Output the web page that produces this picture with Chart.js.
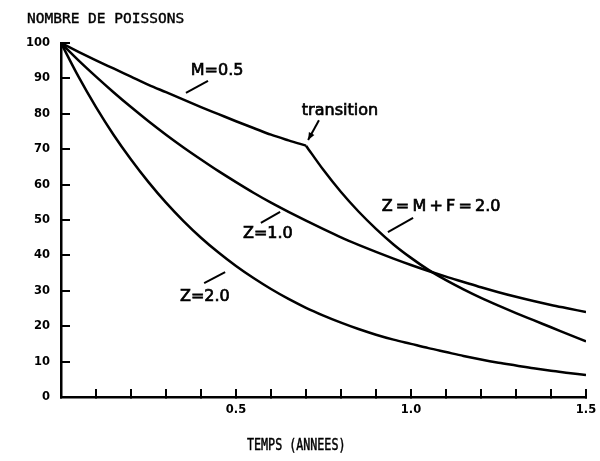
<!DOCTYPE html>
<html><head><meta charset="utf-8">
<script src="https://cdn.jsdelivr.net/npm/chart.js@4/dist/chart.umd.min.js"></script>
<style>html,body{margin:0;padding:0;background:#fff}#wrap{width:600px;height:461px}</style>
</head><body><div id="wrap"><canvas id="c" width="600" height="461"></canvas></div>
<script>
// ---- data ----
const years = [0, 0.05, 0.1, 0.15, 0.2, 0.25, 0.3, 0.35, 0.4, 0.45, 0.5, 0.55, 0.6, 0.65, 0.7, 0.75,
               0.8, 0.85, 0.9, 0.95, 1.0, 1.05, 1.1, 1.15, 1.2, 1.25, 1.3, 1.35, 1.4, 1.45, 1.5];
const zOne  = [100, 95.1, 90.5, 86.1, 81.9, 77.9, 74.1, 70.5, 67.1, 63.8, 60.7, 57.7, 54.9, 52.3, 49.8, 47.4,
               45.1, 43, 41, 39.1, 37.3, 35.6, 34, 32.5, 31, 29.6, 28.3, 27.1, 26, 25, 24];
const zTwo  = [100, 90.5, 81.9, 74.1, 67.1, 60.7, 54.9, 49.7, 45, 40.8, 37, 33.6, 30.5, 27.7, 25.2, 23,
               21, 19.2, 17.6, 16.2, 15, 13.8, 12.7, 11.6, 10.6, 9.7, 8.9, 8.1, 7.4, 6.8, 6.2];
const mYears = [0, 0.05, 0.1, 0.15, 0.2, 0.25, 0.3, 0.35, 0.4, 0.45, 0.5, 0.55, 0.6, 0.65, 0.7];
const mHalf  = [100, 97.5, 95.1, 92.8, 90.5, 88.2, 86.1, 84, 81.9, 79.9, 77.9, 76, 74.1, 72.5, 71];
const transYears = [0.7, 0.75, 0.8, 0.85, 0.9, 0.95, 1.0, 1.05, 1.1, 1.15, 1.2, 1.25, 1.3, 1.35, 1.4, 1.45, 1.5];
const transZ     = [71, 64.1, 57.9, 52.4, 47.5, 43.1, 39.3, 35.9, 33, 30.4, 28, 25.8, 23.7, 21.7, 19.7, 17.7, 15.7];
const xTickLabels = ['0.5', '1.0', '1.5'];
const yAxisTitle = 'NOMBRE DE POISSONS';
const xAxisTitle = 'TEMPS (ANNEES)';
const curveLabels = ['M=0.5', 'transition', 'Z\u2009=\u2009M\u2009+\u2009F\u2009=\u20092.0', 'Z=1.0', 'Z=2.0'];

// ---- layout for annotations (data units) ----
const labelPlacement = [
  {text: curveLabels[0], x: 0.446, y: 92.1, line: [0.357, 85.9, 0.42, 89.3]},
  {text: curveLabels[1], x: 0.797, y: 80.8, line: [0.737, 78.2, 0.706, 72.6], arrow: true},
  {text: curveLabels[2], x: 1.086, y: 53.7, line: [0.934, 46.6, 1.006, 50.6]},
  {text: curveLabels[3], x: 0.591, y: 46.0, line: [0.571, 49.2, 0.626, 52.3]},
  {text: curveLabels[4], x: 0.411, y: 28.2, line: [0.409, 32.2, 0.469, 35.3]}
];

const pts = (xs, ys) => xs.map((x, i) => ({x, y: ys[i]}));
const lineStyle = {borderColor: '#000', borderWidth: 2.5, pointRadius: 0, fill: false, cubicInterpolationMode: 'monotone'};

const annot = {
  id: 'annot',
  afterDatasetsDraw(chart) {
    const ctx = chart.ctx, xs = chart.scales.x, ys = chart.scales.y;
    ctx.save();
    ctx.fillStyle = '#000'; ctx.strokeStyle = '#000';
    ctx.font = '16px "DejaVu Sans"';
    ctx.textAlign = 'center'; ctx.textBaseline = 'middle';
    for (const a of labelPlacement) {
      const tx = xs.getPixelForValue(a.x), ty = ys.getPixelForValue(a.y);
      ctx.fillText(a.text, tx, ty);
      ctx.lineWidth = 0.7; ctx.strokeText(a.text, tx, ty);
      const x1 = xs.getPixelForValue(a.line[0]), y1 = ys.getPixelForValue(a.line[1]);
      const x2 = xs.getPixelForValue(a.line[2]), y2 = ys.getPixelForValue(a.line[3]);
      ctx.lineWidth = 2;
      ctx.beginPath(); ctx.moveTo(x1, y1); ctx.lineTo(x2, y2); ctx.stroke();
      if (a.arrow) {
        const ang = Math.atan2(y2 - y1, x2 - x1), L = 8, W = 0.4;
        ctx.beginPath();
        ctx.moveTo(x2, y2);
        ctx.lineTo(x2 - L * Math.cos(ang - W), y2 - L * Math.sin(ang - W));
        ctx.lineTo(x2 - L * Math.cos(ang + W), y2 - L * Math.sin(ang + W));
        ctx.closePath(); ctx.fill();
      }
    }
    // axis titles
    ctx.textAlign = 'left'; ctx.textBaseline = 'alphabetic';
    ctx.font = '14.5px "DejaVu Sans Mono"';
    ctx.fillText(yAxisTitle, 27, 23);
    ctx.lineWidth = 0.4; ctx.strokeText(yAxisTitle, 27, 23);
    ctx.save();
    ctx.translate(247, 450); ctx.scale(0.73, 1);
    ctx.font = '16px "DejaVu Sans Mono"';
    ctx.fillText(xAxisTitle, 0, 0);
    ctx.lineWidth = 0.5; ctx.strokeText(xAxisTitle, 0, 0);
    ctx.restore();
    ctx.restore();
  }
};

new Chart(document.getElementById('c'), {
  type: 'line',
  data: {
    datasets: [
      Object.assign({label: 'Z=1.0', data: pts(years, zOne)}, lineStyle),
      Object.assign({label: 'Z=2.0', data: pts(years, zTwo)}, lineStyle),
      Object.assign({label: 'M=0.5', data: pts(mYears, mHalf)}, lineStyle),
      Object.assign({label: 'Z=M+F=2.0', data: pts(transYears, transZ)}, lineStyle)
    ]
  },
  options: {
    responsive: false, animation: false, devicePixelRatio: 1,
    layout: {padding: {left: 0, top: 43, right: 14, bottom: 0}},
    plugins: {legend: {display: false}, tooltip: {enabled: false}, title: {display: false}},
    scales: {
      x: {
        type: 'linear', min: 0, max: 1.5,
        afterFit: s => { s.height = 64; s.paddingLeft = 0; s.paddingRight = 0; },
        border: {display: true, color: '#000', width: 2.5},
        grid: {display: true, drawOnChartArea: false, drawTicks: true, tickLength: -8, color: '#000', lineWidth: 2},
        ticks: {
          stepSize: 0.1, autoSkip: false, maxRotation: 0, padding: 14, color: '#000',
          font: {family: '"DejaVu Sans"', size: 11.5, weight: 'bold'},
          callback: v => { const k = Math.round(v * 10); return (k > 0 && k % 5 === 0) ? xTickLabels[k / 5 - 1] : ''; }
        }
      },
      y: {
        type: 'linear', min: 0, max: 100,
        afterFit: s => { s.width = 61; s.paddingTop = 0; s.paddingBottom = 0; },
        border: {display: true, color: '#000', width: 2.5},
        grid: {display: true, drawOnChartArea: false, drawTicks: true, tickLength: -9, color: '#000', lineWidth: 2},
        ticks: {stepSize: 10, padding: 20, color: '#000', font: {family: '"DejaVu Sans"', size: 11.5, weight: 'bold'}}
      }
    }
  },
  plugins: [annot]
});
</script></body></html>
